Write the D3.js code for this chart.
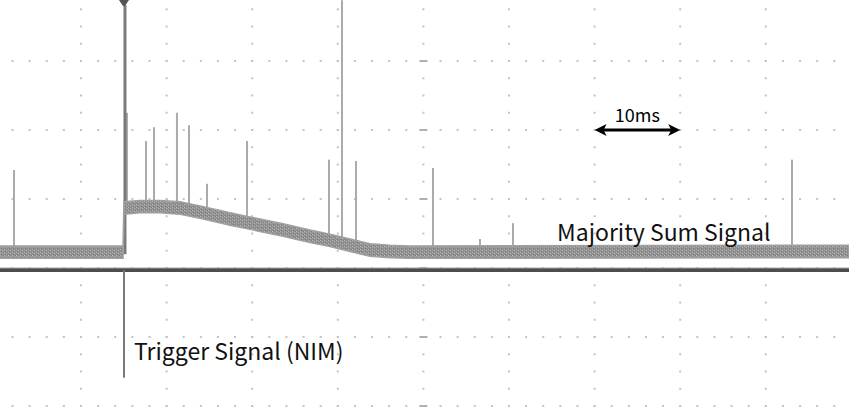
<!DOCTYPE html>
<html><head><meta charset="utf-8">
<script src="https://cdn.jsdelivr.net/npm/d3@7"></script>
<style>html,body{margin:0;padding:0;background:#fff;}svg{display:block;}</style>
</head><body>
<svg id="c" width="849" height="410"></svg>
<script>
// ---- data (time in ms, level in screen divisions) ----
const majorityTime  = [0.54, 14.91, 15.02, 16.89, 19.23, 21.57, 23.90, 27.41, 30.91, 33.60, 36.75, 39.09, 41.43, 43.76, 46.10, 48.43, 99.72];
const majorityLevel = [2.23, 2.23, 2.87, 2.89, 2.89, 2.87, 2.81, 2.71, 2.62, 2.55, 2.46, 2.40, 2.33, 2.26, 2.24, 2.23, 2.24];
const noiseHalfWidth = 0.09;
const spikeTime  = [2.17, 15.37, 17.59, 18.53, 21.21, 22.62, 24.72, 29.39, 38.97, 40.49, 42.13, 51.12, 56.61, 60.47, 93.06];
const spikeTop   = [3.42, 4.25, 3.84, 4.04, 4.25, 4.07, 3.22, 3.84, 3.57, 5.88, 3.55, 3.45, 2.42, 2.65, 3.57];
const triggerTime = 15.02;
const triggerSpikeTop = 5.81;
const nimBaseline = 1.97;
const nimLow = 0.41;
const scaleLabel = "10ms";
const scaleStart = 70, scaleEnd = 80;
const labels = ["Majority Sum Signal", "Trigger Signal (NIM)"];

const W = 849, H = 410;
const FONT = "'Noto Sans CJK SC','Noto Sans',sans-serif";
const x = d3.scaleLinear().domain([0, 100]).range([-4.6, 851.4]);
const y = d3.scaleLinear().domain([0, 6]).range([406, -8]);
const svg = d3.select("#c");

// pattern for noisy trace
const defs = svg.append("defs");
const pat = defs.append("pattern").attr("id","noise").attr("width",4).attr("height",3).attr("patternUnits","userSpaceOnUse");
pat.append("rect").attr("width",4).attr("height",3).attr("fill","#939393");
pat.append("rect").attr("x",0).attr("y",0).attr("width",1).attr("height",1).attr("fill","#b8b8b8");
pat.append("rect").attr("x",2).attr("y",1).attr("width",1).attr("height",1).attr("fill","#b0b0b0");
pat.append("rect").attr("x",1).attr("y",2).attr("width",1).attr("height",1).attr("fill","#7a7a7a");
pat.append("rect").attr("x",3).attr("y",0).attr("width",1).attr("height",1).attr("fill","#808080");

// ---- dotted graticule ----
const grid = svg.append("g");
const majorX = d3.range(0, 11);           // divisions
const majorY = d3.range(0, 7);
const minorX = d3.range(0, 100.01, 2);    // every 1/5 div
const minorY = d3.range(0, 6.01, 0.25);
majorY.forEach(k => {
  minorX.forEach(t => {
    grid.append("rect").attr("x", x(t)-1).attr("y", y(k)-1).attr("width",2).attr("height",2).attr("fill","#c4c4c4");
  });
});
majorX.forEach(d => {
  minorY.forEach(v => {
    grid.append("rect").attr("x", x(d*10)-1).attr("y", y(v)-1).attr("width",2).attr("height",2).attr("fill","#c4c4c4");
  });
});
// centre marks
majorY.forEach(k => {
  grid.append("rect").attr("x", x(50)-4).attr("y", y(k)-1).attr("width",8).attr("height",2).attr("fill","#b0b0b0");
});

// ---- spikes ----
const area = d3.area().x((d,i)=>x(majorityTime[i])).y0((d)=>y(d-noiseHalfWidth)).y1(d=>y(d+noiseHalfWidth));
const levelAt = t => {
  const i = d3.bisectRight(majorityTime, t) - 1;
  const i0 = Math.max(0, Math.min(majorityTime.length-2, i));
  const a = majorityTime[i0], b = majorityTime[i0+1];
  return majorityLevel[i0] + (majorityLevel[i0+1]-majorityLevel[i0])*(t-a)/(b-a);
};
svg.append("g").selectAll("line").data(spikeTime).join("line")
  .attr("x1", d=>x(d)).attr("x2", d=>x(d))
  .attr("y1", (d,i)=>y(spikeTop[i])).attr("y2", d=>y(levelAt(d)))
  .attr("stroke", "#ababab").attr("stroke-width", 2);

// big trigger spike
svg.append("line").attr("x1", x(triggerTime)+1).attr("x2", x(triggerTime)+1)
  .attr("y1", y(triggerSpikeTop)).attr("y2", y(2.2))
  .attr("stroke", "#7a7a7a").attr("stroke-width", 3);

// ---- majority trace ----
svg.append("path").datum(majorityLevel).attr("d", area)
  .attr("fill","url(#noise)").attr("stroke","#a0a0a0").attr("stroke-width",1.5);

// ---- NIM trigger trace ----
svg.append("line").attr("x1",0).attr("x2",W).attr("y1",y(nimBaseline)).attr("y2",y(nimBaseline))
  .attr("stroke","#4d4d4d").attr("stroke-width",4);
svg.append("line").attr("x1",0).attr("x2",W).attr("y1",y(nimBaseline)-2).attr("y2",y(nimBaseline)-2)
  .attr("stroke","#9a9a9a").attr("stroke-width",1);
svg.append("line").attr("x1",x(triggerTime)).attr("x2",x(triggerTime))
  .attr("y1",y(nimBaseline)).attr("y2",y(nimLow))
  .attr("stroke","#777").attr("stroke-width",2);

// trigger marker
const tx = x(triggerTime);
svg.append("path").attr("d", `M${tx-5},0 L${tx+5},0 L${tx+1},6 L${tx-1},6 Z`).attr("fill","#555");

// ---- scale arrow ----
const ay = y(4);
const ax0 = x(scaleStart), ax1 = x(scaleEnd);
svg.append("line").attr("x1",ax0+8).attr("x2",ax1-8).attr("y1",ay).attr("y2",ay).attr("stroke","#000").attr("stroke-width",3);
svg.append("path").attr("d",`M${ax0},${ay} L${ax0+12},${ay-6} L${ax0+9},${ay} L${ax0+12},${ay+6} Z`).attr("fill","#000");
svg.append("path").attr("d",`M${ax1},${ay} L${ax1-12},${ay-6} L${ax1-9},${ay} L${ax1-12},${ay+6} Z`).attr("fill","#000");
svg.append("text").attr("x",(ax0+ax1)/2).attr("y",ay-8).attr("text-anchor","middle")
  .attr("font-family",FONT).attr("font-size",18).attr("fill","#000").text(scaleLabel);

// ---- labels ----
svg.append("text").attr("x",557).attr("y",241).attr("font-family",FONT)
  .attr("font-size",23).attr("fill","#111").text(labels[0]);
svg.append("text").attr("x",134).attr("y",360).attr("font-family",FONT)
  .attr("font-size",23).attr("fill","#111").text(labels[1]);
</script>
</body></html>
